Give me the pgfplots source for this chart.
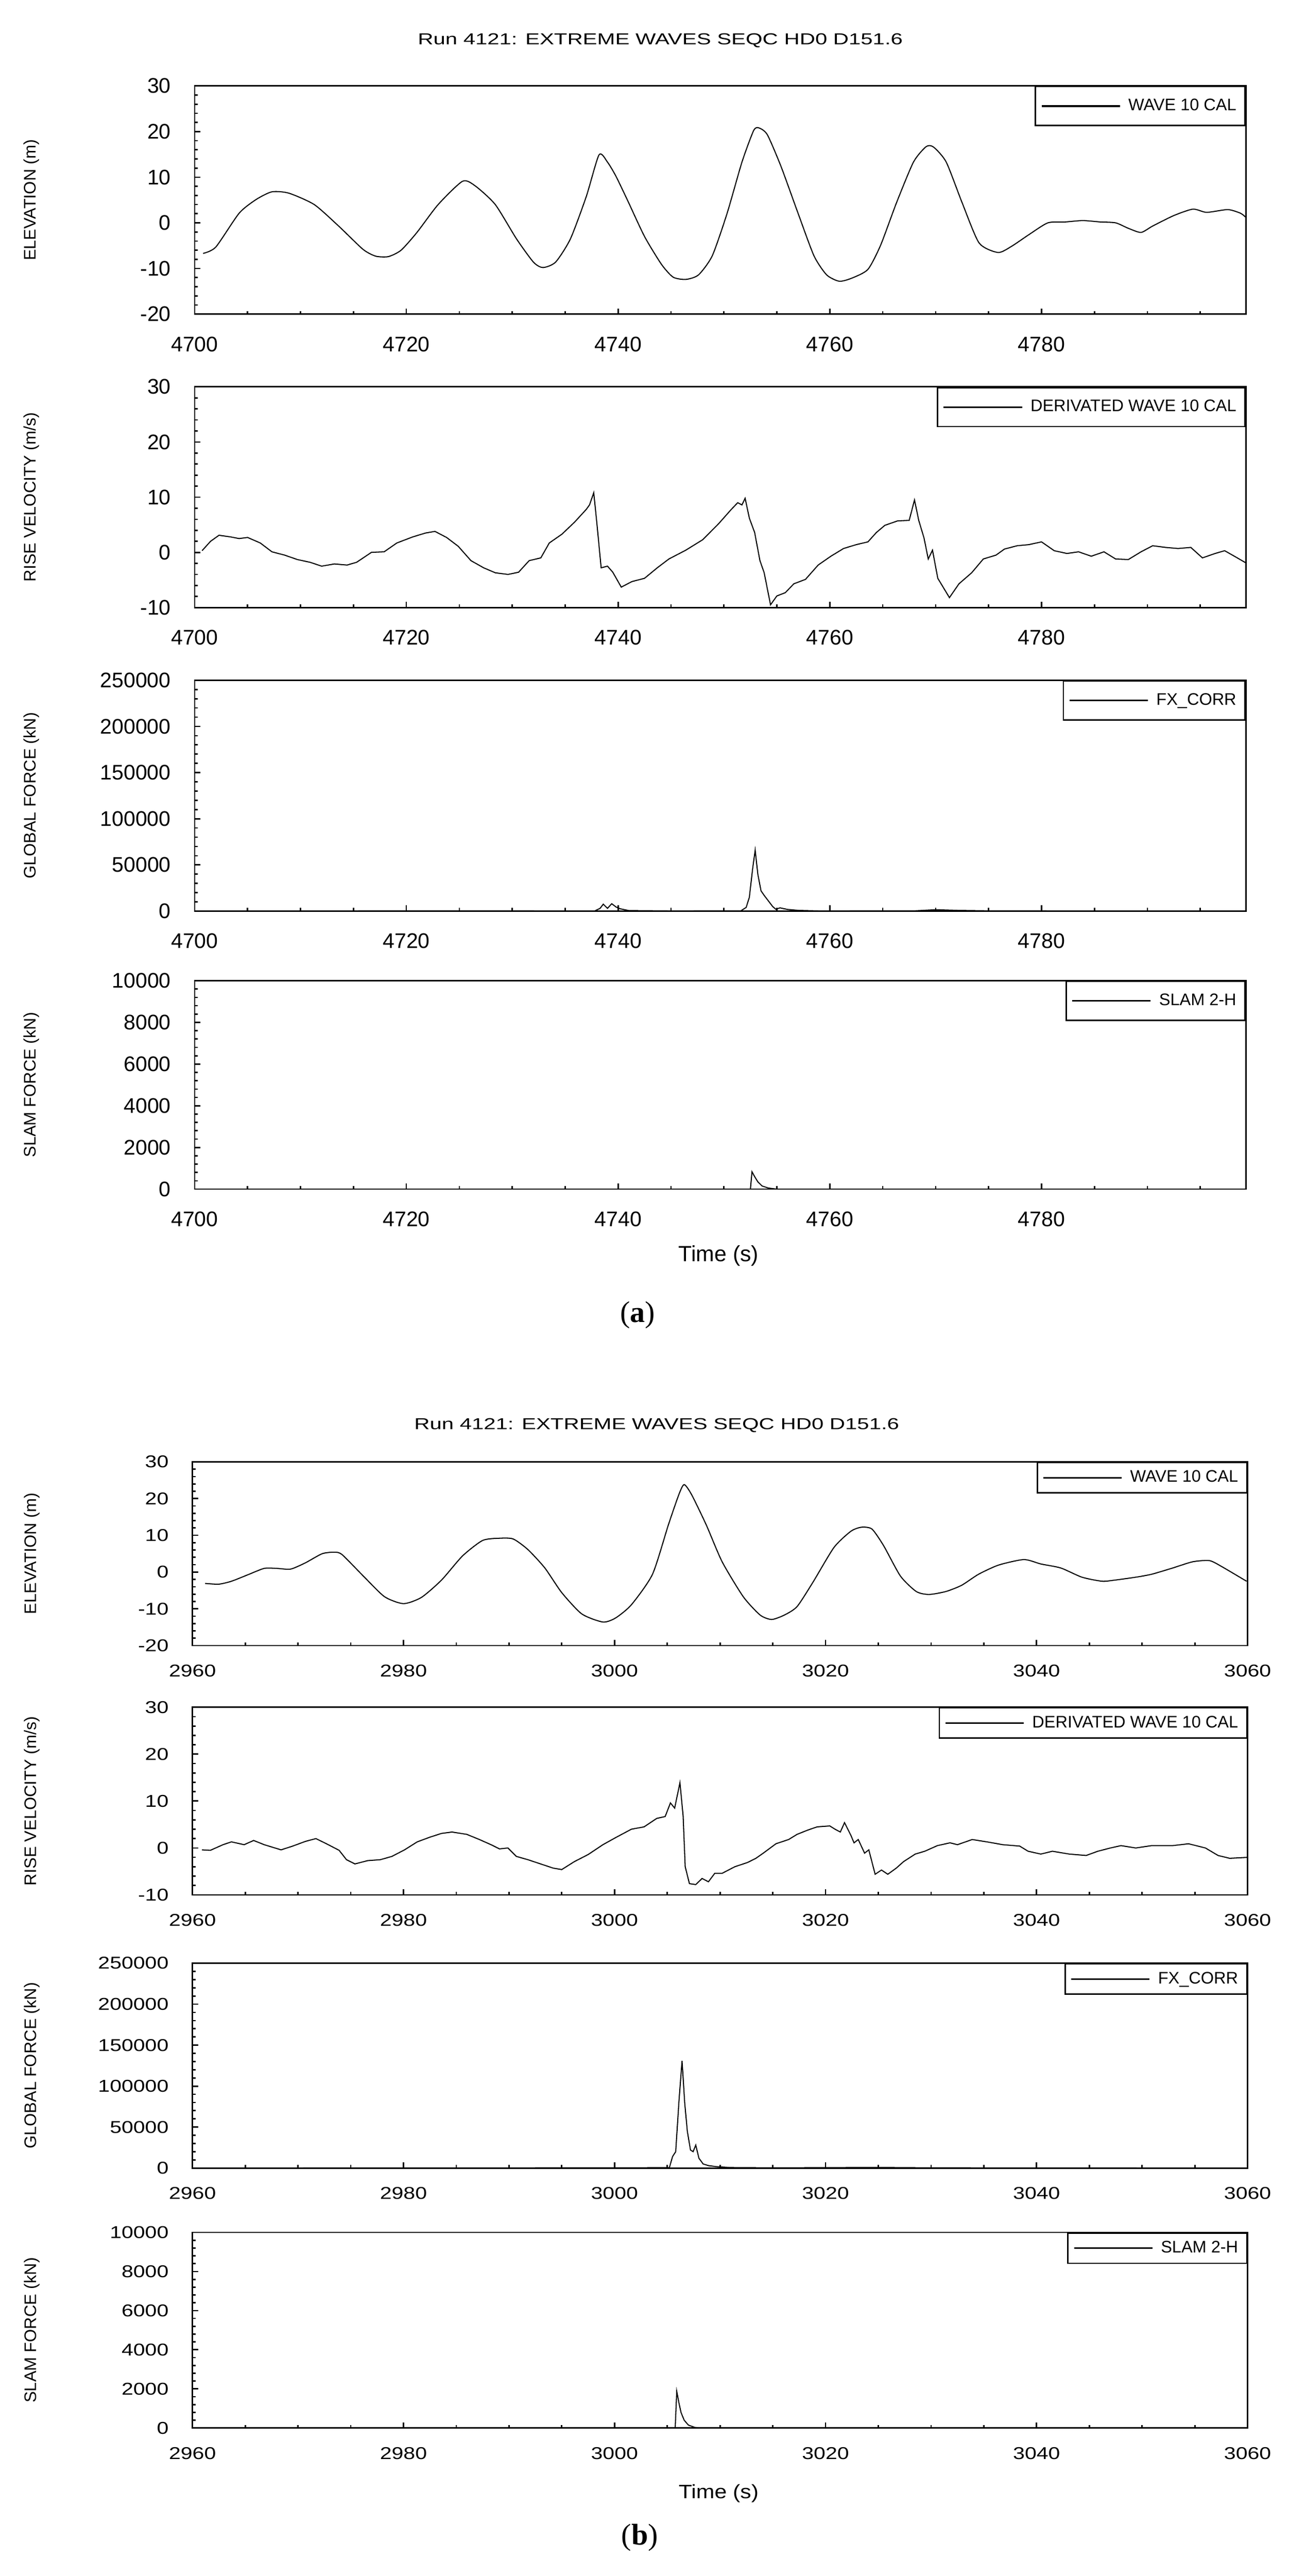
\documentclass[border=0pt]{standalone}
\usepackage{fontspec}
\setmainfont{Liberation Sans}
\newfontfamily\capfont{Liberation Serif}
\usepackage{pgfplots}
\pgfplotsset{compat=1.18}
\pgfplotsset{
  base/.style={
    scale only axis,
    clip mode=individual,
    axis line style={line width=0.8pt},
    tick align=inside,
    xtick pos=left, ytick pos=left,
    major tick length=3.25pt, minor tick length=1.75pt,
    tick style={line width=0.8pt, black},
    tick label style={font=\fontsize{12}{14}\selectfont},
    /pgf/number format/assume math mode=true,
    /pgf/number format/fixed,
    /pgf/number format/1000 sep={},
    scaled ticks=false,
    yticklabel shift=10pt,
    minor x tick num=3,
    minor y tick num=4,
    every axis y label/.style={rotate=90, anchor=center, font=\fontsize{9.5}{11}\selectfont},
    legend style={at={(1,1)}, anchor=north east, draw=black, line width=0.8pt,
      font=\fontsize{9.5}{11}\selectfont, inner xsep=3pt, inner ysep=5pt},
    legend image code/.code={\draw[#1, line width=0.9pt] (0pt,0pt) -- (44.5pt,0pt); \path (47pt,0pt);},
    legend cell align=left,
  },
  pa/.style={base, width=596.75pt, xmin=4700, xmax=4799.3, xtick={4700,4720,4740,4760,4780,4800},
    xticklabel shift=9.25pt,
    every axis y label/.append style={at={(axis description cs:-0.155,0.5)}}},
  pb/.style={base, width=599pt, xmin=2960, xmax=3060, xtick={2960,2980,3000,3020,3040,3060},
    xticklabel shift=8pt, tick label style={yscale=0.81},
    every axis y label/.append style={at={(axis description cs:-0.1523,0.5)}},
    legend style={inner ysep=2.5pt}},
  wave/.style={ymin=-20, ymax=30, ytick={-20,-10,0,10,20,30}, ylabel={ELEVATION (m)}},
  vel/.style={ymin=-10, ymax=30, ytick={-10,0,10,20,30}, ylabel={RISE VELOCITY (m/s)}},
  glob/.style={ymin=0, ymax=250000, ytick={0,50000,100000,150000,200000,250000}, ylabel={GLOBAL FORCE (kN)}},
  slam/.style={ymin=0, ymax=10000, ytick={0,2000,4000,6000,8000,10000}, ylabel={SLAM FORCE (kN)}},
  curve/.style={black, line width=0.6pt, mark=none},
  ttl/.style={title={Run 4121: EXTREME WAVES SEQC HD0 D151.6},
    every axis title/.style={at={(axis description cs:#1)}, anchor=center,
      font=\fontsize{9}{11}\selectfont, xscale=1.36}},
}
\begin{document}
\begin{tikzpicture}
\path[use as bounding box] (0pt,0pt) rectangle (731.5pt,-1461.75pt);

% ---------------- (a) ----------------
\begin{axis}[pa, wave, ttl={0.443,1.198}, at={(110.5pt,-48.75pt)}, anchor=north west, height=129.5pt]
\addplot[curve, smooth, tension=0.4] coordinates {
(4700.8,-6.7) (4702,-5.3) (4704.2,2.1) (4705.8,5.1) (4707.3,6.8) (4708.9,6.5) (4711.3,4.0)
(4713.6,-0.7) (4715.9,-5.8) (4717.1,-7.3) (4718.3,-7.4) (4719.5,-6.0) (4721,-2.1) (4723,4.0)
(4725.3,9.1) (4726.5,8.1) (4728.4,4.0) (4730.4,-3.5) (4732,-8.6) (4732.9,-9.8) (4734.1,-8.6)
(4735.5,-3.5) (4737,5.8) (4738.2,14.9) (4739,13.3) (4739.8,10.2) (4740.9,4.9) (4742.5,-3.0)
(4744.1,-9.1) (4745.2,-11.9) (4746.4,-12.4) (4747.6,-11.4) (4748.9,-7.2) (4750.3,2.1)
(4751.7,13.3) (4752.8,20.2) (4753.3,20.8) (4754.1,19.3) (4755.4,12.3) (4757,2.1) (4758.5,-7.2)
(4759.7,-11.4) (4760.9,-12.8) (4762.1,-12.1) (4763.6,-10.2) (4764.8,-4.9) (4766.3,4.4)
(4767.9,13.3) (4769.1,16.7) (4769.8,16.6) (4771,13.3) (4772.5,4.4) (4774.1,-4.4) (4775.9,-6.5)
(4777.2,-5.1) (4778.8,-2.6) (4780.6,0) (4782.3,0.2) (4783.9,0.5) (4785.5,0.2) (4787,0)
(4788.2,-1.2) (4789.4,-2.1) (4790.5,-0.7) (4792.5,1.6) (4794.3,3.0) (4795.6,2.3) (4797.6,2.9)
(4798.8,2.1) (4799.3,1.2)};
\addlegendentry{WAVE 10 CAL}
\end{axis}

\begin{axis}[pa, vel, at={(110.5pt,-219.5pt)}, anchor=north west, height=125.25pt]
\addplot[curve] coordinates {
(4700.7,0.3) (4701.5,2.0) (4702.3,3.1) (4703.4,2.8) (4704.2,2.5) (4705,2.7) (4706.2,1.7)
(4707.3,0.1) (4708.5,-0.5) (4709.7,-1.3) (4710.9,-1.8) (4712,-2.5) (4713.2,-2.1) (4714.4,-2.3)
(4715.3,-1.8) (4716.7,0) (4717.9,0.1) (4719.1,1.7) (4720.6,2.8) (4721.8,3.5) (4722.7,3.8)
(4723.8,2.7) (4724.9,1.1) (4726.1,-1.5) (4727.3,-2.8) (4728.4,-3.7) (4729.6,-4.0) (4730.6,-3.6)
(4731.6,-1.5) (4732.7,-1.0) (4733.5,1.7) (4734.7,3.3) (4735.9,5.5) (4737,7.8) (4737.3,8.6)
(4737.7,10.8) (4738,5.2) (4738.4,-2.8) (4739,-2.5) (4739.5,-3.6) (4740.3,-6.3) (4741.3,-5.3)
(4742.5,-4.7) (4743.7,-2.8) (4744.8,-1.2) (4746.4,0.4) (4748,2.3) (4749.5,5.2) (4750.7,7.8)
(4751.3,9.0) (4751.7,8.6) (4752,9.8) (4752.4,6.2) (4752.9,3.6) (4753.4,-1.5) (4753.8,-3.7)
(4754.4,-9.5) (4755,-7.9) (4755.8,-7.3) (4756.6,-5.7) (4757.7,-4.9) (4758.9,-2.3) (4760.1,-0.7)
(4761.3,0.7) (4762.5,1.4) (4763.6,1.9) (4764.4,3.6) (4765.2,4.9) (4766.4,5.7) (4767.5,5.8)
(4768,9.5) (4768.4,5.8) (4768.9,2.6) (4769.3,-1.2) (4769.7,0.4) (4770.2,-4.7) (4771.3,-8.2)
(4772.2,-5.7) (4773.4,-3.7) (4774.5,-1.2) (4775.7,-0.5) (4776.5,0.6) (4777.7,1.2) (4778.8,1.4)
(4780,1.9) (4781.2,0.3) (4782.4,-0.2) (4783.5,0.1) (4784.7,-0.7) (4785.9,0.1) (4787,-1.2)
(4788.2,-1.3) (4789.4,0.1) (4790.5,1.2) (4791.7,0.9) (4792.9,0.7) (4794.1,0.9) (4795.2,-1.0)
(4796.4,-0.2) (4797.3,0.3) (4798.4,-0.9) (4799.3,-1.9)};
\addlegendentry{DERIVATED WAVE 10 CAL}
\end{axis}

\begin{axis}[pa, glob, at={(110.5pt,-386pt)}, anchor=north west, height=131pt]
\addplot[curve] coordinates {
(4700,0) (4720,300) (4737.8,200) (4738.3,3000) (4738.6,7500) (4739,3000) (4739.4,8000)
(4739.8,4500) (4740.2,2500) (4741,600) (4745,200) (4751.6,300) (4752.1,4000) (4752.4,15000)
(4752.7,45000) (4752.95,66000) (4753.2,40000) (4753.5,22000) (4753.8,17000) (4754.2,11000)
(4754.6,5000) (4754.9,2000) (4755.3,3500) (4756,1800) (4757,800) (4759,200) (4768,300)
(4770,1500) (4772,800) (4775,300) (4799.3,0)};
\addlegendentry{FX\_CORR}
\end{axis}

\begin{axis}[pa, slam, at={(110.5pt,-556.5pt)}, anchor=north west, height=118.25pt,
  xlabel={Time (s)},
  every axis x label/.style={at={(axis description cs:0.4985,-0.319)}, anchor=center, font=\fontsize{12.5}{14}\selectfont}]
\addplot[curve] coordinates {
(4700,0) (4752.5,0) (4752.65,830) (4752.9,600) (4753.2,350) (4753.6,150) (4754.2,50) (4755,0) (4799.3,0)};
\addlegendentry{SLAM 2-H}
\node[font=\capfont\fontsize{17}{20}\selectfont] at (axis description cs:0.4214,-0.605) {(\textbf{a})};
\end{axis}

% ---------------- (b) ----------------
\begin{axis}[pb, wave, ttl={0.44,1.197}, at={(109.25pt,-829.5pt)}, anchor=north west, height=104.25pt]
\addplot[curve, smooth, tension=0.4] coordinates {
(2961.2,-3.1) (2962.5,-3.3) (2963.7,-2.5) (2965.2,-0.8) (2966.8,1.0) (2968,1.0) (2969.3,0.8)
(2970.7,2.5) (2972.3,5.0) (2973.5,5.4) (2974.2,4.7) (2976.2,-1.1) (2978.2,-6.7) (2980,-8.6)
(2981.7,-6.9) (2983.6,-2.2) (2985.6,4.4) (2987.5,8.6) (2989.1,9.2) (2990.4,9.0) (2991.8,6.1)
(2993.4,1.1) (2995,-5.6) (2996.9,-11.4) (2998.9,-13.6) (3000.1,-12.5) (3001.6,-8.9) (3003.6,-0.6)
(3005.1,12.8) (3006.1,21.1) (3006.6,23.8) (3007.3,21.1) (3008.7,12.8) (3010.2,2.8) (3012.2,-6.7)
(3013.8,-11.7) (3014.9,-12.9) (3016.1,-11.7) (3017.3,-9.4) (3018.8,-2.8) (3020.8,6.7) (3022.4,11.1)
(3023.4,12.2) (3024.4,11.7) (3025.5,7.2) (3027.1,-1.1) (3028.6,-5.3) (3029.8,-6.1) (3031.4,-5.3)
(3032.9,-3.6) (3034.5,-0.6) (3036.4,1.9) (3038.8,3.4) (3040.4,2.2) (3042.3,1.1) (3044.3,-1.4)
(3046.2,-2.5) (3047.4,-2.2) (3049.4,-1.4) (3050.9,-0.6) (3052.9,1.1) (3054.8,2.8) (3056.4,3.1)
(3057.6,1.4) (3059.9,-2.5)};
\addlegendentry{WAVE 10 CAL}
\end{axis}

\begin{axis}[pb, vel, at={(109.25pt,-968.75pt)}, anchor=north west, height=106.5pt]
\addplot[curve] coordinates {
(2960.9,-0.4) (2961.7,-0.5) (2962.9,0.7) (2963.7,1.3) (2964.9,0.7) (2965.8,1.6) (2966.8,0.7)
(2968.4,-0.4) (2969.5,0.4) (2970.7,1.4) (2971.7,2.0) (2972.7,0.9) (2973.9,-0.5) (2974.6,-2.5)
(2975.4,-3.4) (2976.6,-2.7) (2977.8,-2.5) (2978.9,-1.8) (2980.1,-0.4) (2981.3,1.3) (2982.5,2.3)
(2983.6,3.1) (2984.6,3.4) (2986,2.9) (2987.2,1.8) (2988.3,0.7) (2989.1,-0.2) (2989.9,0)
(2990.7,-1.8) (2991.8,-2.5) (2993,-3.4) (2994.2,-4.3) (2995,-4.6) (2996.2,-2.9) (2997.5,-1.4)
(2998.9,0.7) (3000.1,2.2) (3001.6,4.0) (3002.8,4.5) (3004,6.3) (3004.8,6.7) (3005.3,9.6)
(3005.7,8.5) (3006.2,13.9) (3006.5,6.9) (3006.7,-4.0) (3007.1,-7.6) (3007.7,-7.8) (3008.3,-6.5)
(3008.9,-7.2) (3009.5,-5.4) (3010.2,-5.4) (3011.4,-4.0) (3012.6,-3.1) (3013.4,-2.2) (3014.1,-1.1)
(3015.3,0.9) (3016.5,1.8) (3017.3,2.9) (3018.3,3.8) (3019.2,4.5) (3020.4,4.7) (3020.9,4.0)
(3021.4,3.4) (3021.8,5.4) (3022.4,2.7) (3022.7,1.1) (3023.1,1.8) (3023.7,-1.1) (3024.1,-0.4)
(3024.7,-5.6) (3025.3,-4.7) (3025.9,-5.6) (3026.7,-4.3) (3027.4,-2.9) (3028.5,-1.3) (3029.4,-0.7)
(3030.6,0.5) (3031.8,1.1) (3032.5,0.7) (3033.9,1.8) (3035.3,1.3) (3036.8,0.7) (3038.4,0.4)
(3039.2,-0.7) (3040.4,-1.3) (3041.5,-0.7) (3043.1,-1.3) (3044.7,-1.6) (3045.8,-0.7) (3047,0)
(3048,0.5) (3049.4,0) (3050.9,0.5) (3052.9,0.5) (3054.4,0.9) (3056,0) (3057.2,-1.6)
(3058.3,-2.2) (3060,-2.0)};
\addlegendentry{DERIVATED WAVE 10 CAL}
\end{axis}

\begin{axis}[pb, glob, at={(109.25pt,-1114pt)}, anchor=north west, height=116.25pt]
\addplot[curve] coordinates {
(2960,0) (2980,200) (3000,300) (3005.2,500) (3005.5,14000) (3005.8,20000) (3006.1,80000)
(3006.4,131000) (3006.65,80000) (3006.9,45000) (3007.2,22000) (3007.45,20000) (3007.7,28000)
(3008,12000) (3008.4,5000) (3008.9,3000) (3009.6,1800) (3011,600) (3015,300) (3025,700)
(3030,300) (3060,0)};
\addlegendentry{FX\_CORR}
\end{axis}

\begin{axis}[pb, slam, at={(109.25pt,-1266.75pt)}, anchor=north west, height=111pt,
  xlabel={Time (s)},
  every axis x label/.style={at={(axis description cs:0.4987,-0.3356)}, anchor=center, font=\fontsize{12.5}{14}\selectfont, yscale=0.88}]
\addplot[curve] coordinates {
(2960,0) (3005.75,0) (3005.9,1870) (3006.1,1300) (3006.3,800) (3006.6,400) (3007,150)
(3007.6,30) (3008.5,0) (3060,0)};
\addlegendentry{SLAM 2-H}
\node[font=\capfont\fontsize{17}{20}\selectfont] at (axis description cs:0.424,-0.561) {(\textbf{b})};
\end{axis}
\end{tikzpicture}
\end{document}
